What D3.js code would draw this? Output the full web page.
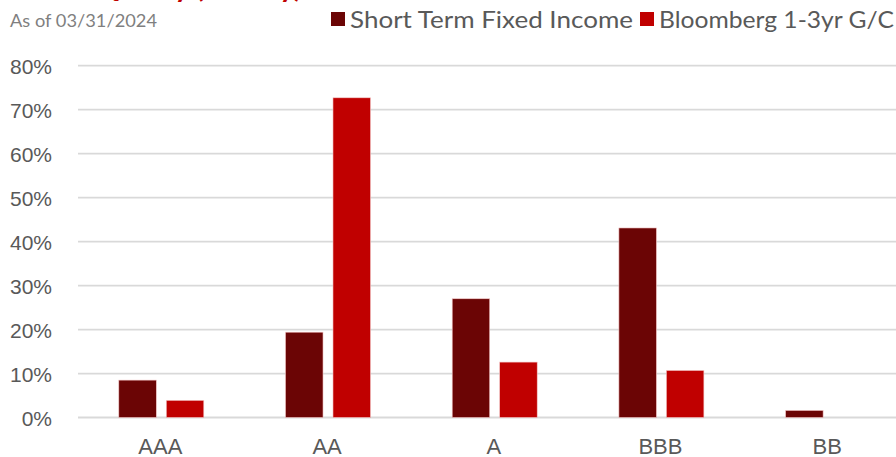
<!DOCTYPE html>
<html>
<head>
<meta charset="utf-8">
<script src="https://cdn.jsdelivr.net/npm/d3@7"></script>
<style>
  body { margin: 0; background: #fff; overflow: hidden; }
  svg { font-family: Lato, "Open Sans", sans-serif; }
</style>
</head>
<body>
<div id="chart"></div>
<script>
var svgWidth = 896;
var svgHeight = 457;

// data
var categories = ["AAA", "AA", "A", "BBB", "BB"];
var seriesNames = ["Short Term Fixed Income", "Bloomberg 1-3yr G/C"];
var fixedIncome = [8.5, 19.4, 27.0, 43.1, 1.6];
var bloomberg = [3.9, 72.7, 12.6, 10.7, 0];
var yTicks = [0, 10, 20, 30, 40, 50, 60, 70, 80];
var colors = ["#6b0505", "#c00000"];

var rows = categories.map(function(c, i) {
    return { cat: c, values: [fixedIncome[i], bloomberg[i]] };
});

var svg = d3.select("#chart")
    .append("svg")
    .attr("width", svgWidth)
    .attr("height", svgHeight);

var x0 = d3.scaleBand()
    .domain(categories)
    .range([78, 911.5]);

var x1 = d3.scaleBand()
    .domain(d3.range(seriesNames.length))
    .range([40.8, 125.8])
    .paddingInner(0.21);

var y = d3.scaleLinear()
    .domain([0, 80])
    .range([417.5, 65.7]);

// gridlines
svg.append("g")
    .selectAll("line")
    .data(yTicks)
    .enter()
    .append("line")
    .attr("x1", 78)
    .attr("x2", svgWidth)
    .attr("y1", d => y(d))
    .attr("y2", d => y(d))
    .attr("stroke", "#d9d9d9")
    .attr("stroke-width", 1.8);

// y axis labels
var leftAxis = d3.axisLeft(y)
    .tickValues(yTicks)
    .tickSize(0)
    .tickPadding(0)
    .tickFormat(d => d + "%");

var yAxis = svg.append("g")
    .attr("transform", "translate(52,0)")
    .call(leftAxis);
yAxis.select(".domain").remove();
yAxis.selectAll("text")
    .attr("fill", "#595959")
    .style("font-size", "21px")
    .attr("dy", "0.36em");

// bars
var groups = svg.append("g")
    .selectAll("g")
    .data(rows)
    .enter()
    .append("g")
    .attr("transform", d => `translate(${x0(d.cat)},0)`);

groups.selectAll("rect")
    .data(d => d.values)
    .enter()
    .append("rect")
    .attr("x", (d, i) => x1(i))
    .attr("width", x1.bandwidth())
    .attr("y", d => y(d))
    .attr("height", d => y(0) - y(d))
    .attr("fill", (d, i) => colors[i])
    .attr("stroke", "#f4c7c7")
    .attr("stroke-width", 0.6);

// x axis labels
var bottomAxis = d3.axisBottom(x0)
    .tickSize(0)
    .tickPadding(0);

var xAxis = svg.append("g")
    .attr("transform", "translate(0,437)")
    .call(bottomAxis);
xAxis.select(".domain").remove();
xAxis.selectAll("text")
    .attr("fill", "#595959")
    .style("font-size", "22px")
    .attr("dy", "0.75em")
    .attr("x", -1);

// title, cut off by the top edge as in the original
svg.append("text")
    .attr("x", 10)
    .attr("y", -3)
    .attr("fill", "#c00000")
    .style("font-size", "30px")
    .style("font-weight", "bold")
    .attr("textLength", 292)
    .attr("lengthAdjust", "spacingAndGlyphs")
    .text("Credit Quality (Moody)");

svg.append("text")
    .attr("x", 10)
    .attr("y", 27)
    .attr("fill", "#7f7f7f")
    .style("font-size", "18px")
    .attr("textLength", 147)
    .attr("lengthAdjust", "spacingAndGlyphs")
    .text("As of 03/31/2024");

// legend
var legendX = [331, 640];
var legendW = [283, 235];
var legend = svg.append("g");
seriesNames.forEach(function(name, i) {
    legend.append("rect")
        .attr("x", legendX[i])
        .attr("y", 12)
        .attr("width", 14)
        .attr("height", 14)
        .attr("fill", colors[i]);
    legend.append("text")
        .attr("x", legendX[i] + 19)
        .attr("y", 28)
        .attr("fill", "#595959")
        .style("font-size", "23px")
        .attr("textLength", legendW[i])
        .attr("lengthAdjust", "spacingAndGlyphs")
        .text(name);
});
</script>
</body>
</html>
